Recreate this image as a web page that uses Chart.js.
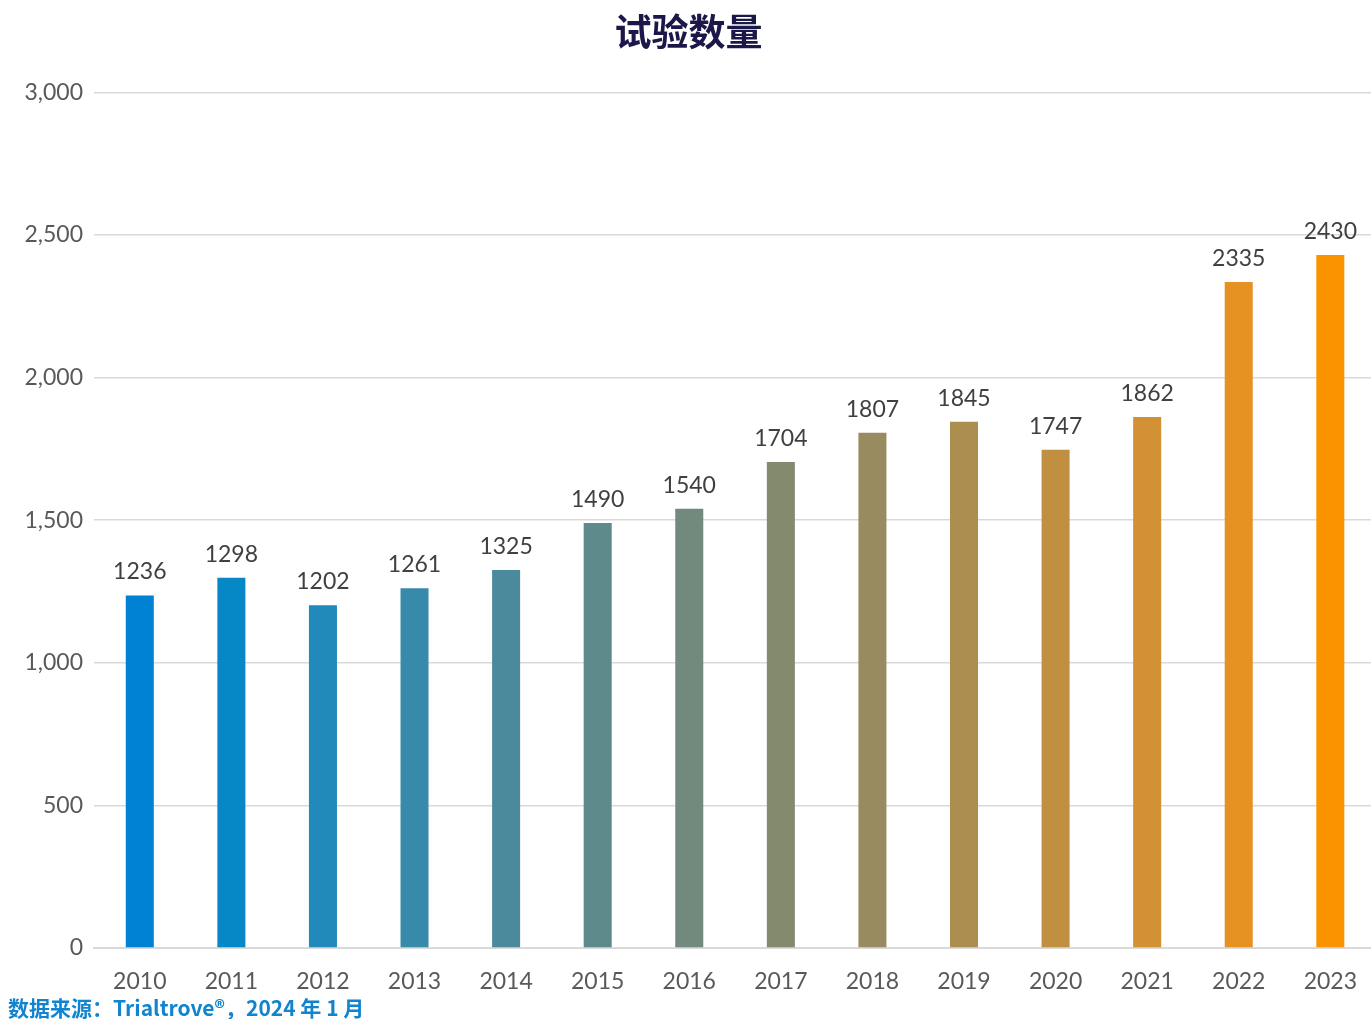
<!DOCTYPE html>
<html lang="zh">
<head>
<meta charset="UTF-8">
<title>试验数量</title>
<script src="https://cdn.jsdelivr.net/npm/chart.js"></script>
<style>
    html, body { margin: 0; padding: 0; background: #ffffff; overflow: hidden; }
    .wrap { position: relative; width: 1371px; height: 1019px; overflow: hidden; }
    .source {
        position: absolute;
        left: 8px;
        top: 993px;
        font-family: 'Noto Sans CJK SC', Lato, sans-serif;
        font-weight: bold;
        font-size: 21px;
        color: #1184cf;
        line-height: 28px;
    }
</style>
</head>
<body>
<div class="wrap">
    <canvas id="trialChart" width="1377" height="1019"></canvas>
    <div class="source">数据来源：Trialtrove®，2024 年 1 月</div>
</div>
<script>
const years = ['2010','2011','2012','2013','2014','2015','2016','2017','2018','2019','2020','2021','2022','2023'];
const trialCounts = [1236, 1298, 1202, 1261, 1325, 1490, 1540, 1704, 1807, 1845, 1747, 1862, 2335, 2430];
const barColors = ['#0082d4','#0688c7','#218aba','#388aab','#4b8a9c','#5e8a8c','#718a7d','#848a6e','#988b5f','#ac8e51','#c08f42','#d29134','#e69222','#fb9300'];
const yTicks = [0, 500, 1000, 1500, 2000, 2500, 3000];

const fontFamily = "Lato, 'Noto Sans', sans-serif";

// labels above each bar
const valueLabels = {
    id: 'valueLabels',
    afterDatasetsDraw(chart) {
        const ctx = chart.ctx;
        const meta = chart.getDatasetMeta(0);
        ctx.save();
        ctx.font = '23px ' + fontFamily;
        ctx.fillStyle = '#404040';
        ctx.textAlign = 'center';
        ctx.textBaseline = 'bottom';
        meta.data.forEach((bar, i) => {
            ctx.fillText(String(trialCounts[i]), bar.x, bar.y - 12);
        });
        ctx.restore();
    }
};

new Chart(document.getElementById('trialChart'), {
    type: 'bar',
    data: {
        labels: years,
        datasets: [{
            data: trialCounts,
            backgroundColor: barColors,
            barPercentage: 0.306,
            categoryPercentage: 1
        }]
    },
    options: {
        responsive: false,
        animation: false,
        layout: { padding: { top: 0, right: 0, bottom: 26, left: 0 } },
        plugins: {
            legend: { display: false },
            tooltip: { enabled: false },
            title: {
                display: true,
                text: '试验数量',
                color: '#1b1748',
                font: { family: "'Noto Sans CJK SC', sans-serif", size: 37, weight: 'bold' },
                padding: { top: 10, bottom: 38 }
            }
        },
        scales: {
            x: {
                grid: { display: false, drawTicks: false },
                border: { display: true, color: '#d9d9d9', width: 2 },
                ticks: { color: '#595959', font: { family: fontFamily, size: 23 }, padding: 20 },
                afterFit(scale) { scale.height = 45; }
            },
            y: {
                min: 0,
                max: 3000,
                afterBuildTicks(scale) { scale.ticks = yTicks.map(v => ({ value: v })); },
                grid: { color: '#d9d9d9', lineWidth: 1.5, drawTicks: false },
                border: { display: false },
                ticks: {
                    color: '#595959',
                    font: { family: fontFamily, size: 23 },
                    padding: 11,
                    callback: v => v.toLocaleString('en-US')
                },
                afterFit(scale) { scale.width = 94; }
            }
        }
    },
    plugins: [valueLabels]
});
</script>
</body>
</html>
